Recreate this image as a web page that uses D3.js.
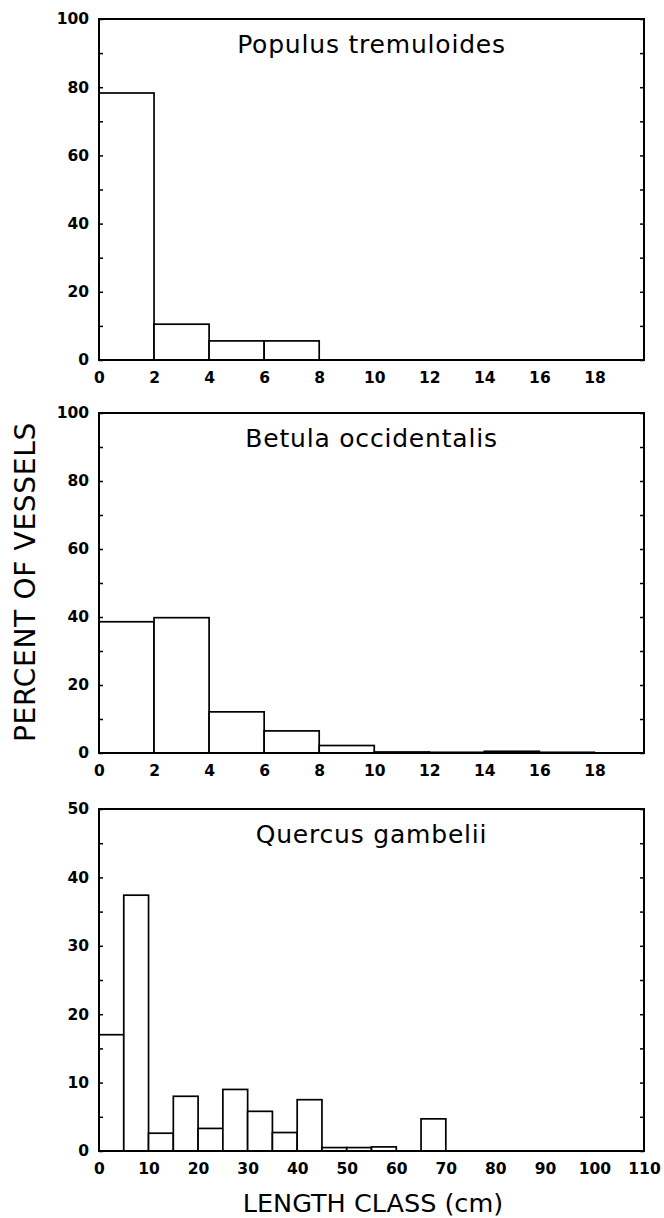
<!DOCTYPE html>
<html>
<head>
<meta charset="utf-8">
<script src="https://cdn.jsdelivr.net/npm/d3@7"></script>
<style>
    body { margin: 0; background: #fff; }
    svg { display: block; }
    .frame { fill: none; stroke: #000; stroke-width: 2; }
    .bar { fill: #fff; stroke: #000; stroke-width: 1.7; }
    .tick-lbl text { font-family: "DejaVu Sans", sans-serif; font-weight: bold; font-size: 15.5px; fill: #000; }
    .tick-lbl .domain, .tick-lbl line { display: none; }
    .minor .domain { display: none; }
    .minor line { stroke: #000; stroke-width: 1.5; }
    .title { font-family: "DejaVu Sans", sans-serif; font-size: 25px; letter-spacing: 0.8px; fill: #000; }
    .axis-title { font-family: "DejaVu Sans", sans-serif; font-size: 27px; fill: #000; }
</style>
</head>
<body>
<div id="chart"></div>
<script>

// bin start values (cm)
const populusBins = [0, 2, 4, 6, 8, 10, 12, 14, 16];
const populusValues = [78.3, 10.5, 5.6, 5.6, 0, 0, 0, 0, 0];

const betulaBins = [0, 2, 4, 6, 8, 10, 12, 14, 16];
const betulaValues = [38.6, 39.8, 12.1, 6.5, 2.2, 0.3, 0.2, 0.5, 0.2];

const quercusBins = [0, 5, 10, 15, 20, 25, 30, 35, 40, 45, 50, 55, 60, 65, 70, 75, 80, 85, 90, 95, 100, 105];
const quercusValues = [17.0, 37.4, 2.6, 8.0, 3.3, 9.0, 5.8, 2.7, 7.5, 0.5, 0.5, 0.6, 0, 4.7, 0, 0, 0, 0, 0, 0, 0, 0];

const shortTicksX = [0, 2, 4, 6, 8, 10, 12, 14, 16, 18];
const longTicksX = [0, 10, 20, 30, 40, 50, 60, 70, 80, 90, 100, 110];
const pctTicks100 = [0, 20, 40, 60, 80, 100];
const pctTicks50 = [0, 10, 20, 30, 40, 50];

const titles = ["Populus tremuloides", "Betula occidentalis", "Quercus gambelii"];

const width = 664;
const height = 1218;

const svg = d3.select("#chart").append("svg")
    .attr("width", width)
    .attr("height", height);

function drawPanel(opts) {

    let left = 99, right = 644;

    let xScale = d3.scaleLinear()
        .domain(opts.xDomain)
        .range([left, right]);

    let yScale = d3.scaleLinear()
        .domain(opts.yDomain)
        .range([opts.bottom, opts.top]);

    let g = svg.append("g");

    // bars
    g.selectAll(".bar")
        .data(opts.bins.map((b, i) => ({ x0: b, x1: b + opts.binWidth, v: opts.values[i] })))
        .enter().append("rect")
        .classed("bar", true)
        .attr("x", d => xScale(d.x0))
        .attr("width", d => xScale(d.x1) - xScale(d.x0))
        .attr("y", d => yScale(d.v))
        .attr("height", d => yScale(0) - yScale(d.v));

    // minor ticks, inside on both sides
    let minorVals = d3.range(opts.yDomain[0], opts.yDomain[1] + 0.1, opts.minorStep);

    g.append("g")
        .classed("minor", true)
        .attr("transform", `translate(${left},0)`)
        .call(d3.axisRight(yScale).tickValues(minorVals).tickSize(4).tickFormat(""));

    g.append("g")
        .classed("minor", true)
        .attr("transform", `translate(${right},0)`)
        .call(d3.axisLeft(yScale).tickValues(minorVals).tickSize(4).tickFormat(""));

    // tick labels
    g.append("g")
        .classed("tick-lbl", true)
        .attr("transform", `translate(${left - 1},0)`)
        .call(d3.axisLeft(yScale).tickValues(opts.yTicks).tickSize(0).tickPadding(9));

    g.append("g")
        .classed("tick-lbl", true)
        .attr("transform", `translate(0,${opts.bottom})`)
        .call(d3.axisBottom(xScale).tickValues(opts.xTicks).tickSize(0).tickPadding(12));

    // frame
    g.append("rect")
        .classed("frame", true)
        .attr("x", left)
        .attr("y", opts.top)
        .attr("width", right - left)
        .attr("height", opts.bottom - opts.top);

    g.append("text")
        .classed("title", true)
        .attr("x", (left + right) / 2)
        .attr("y", opts.top + 34)
        .attr("text-anchor", "middle")
        .text(opts.title);
}

drawPanel({
    top: 19, bottom: 360,
    xDomain: [0, 19.8], yDomain: [0, 100],
    bins: populusBins, values: populusValues, binWidth: 2,
    xTicks: shortTicksX, yTicks: pctTicks100, minorStep: 10,
    title: titles[0]
});

drawPanel({
    top: 413, bottom: 753,
    xDomain: [0, 19.8], yDomain: [0, 100],
    bins: betulaBins, values: betulaValues, binWidth: 2,
    xTicks: shortTicksX, yTicks: pctTicks100, minorStep: 10,
    title: titles[1]
});

drawPanel({
    top: 809, bottom: 1151,
    xDomain: [0, 110], yDomain: [0, 50],
    bins: quercusBins, values: quercusValues, binWidth: 5,
    xTicks: longTicksX, yTicks: pctTicks50, minorStep: 5,
    title: titles[2]
});

svg.append("text")
    .classed("axis-title", true)
    .attr("transform", "translate(35,582) rotate(-90)")
    .attr("text-anchor", "middle")
    .style("font-size", "28px")
    .style("letter-spacing", "0.7px")
    .text("PERCENT OF VESSELS");

svg.append("text")
    .classed("axis-title", true)
    .attr("x", 373)
    .attr("y", 1212)
    .attr("text-anchor", "middle")
    .style("font-size", "25.5px")
    .text("LENGTH CLASS (cm)");

</script>
</body>
</html>
